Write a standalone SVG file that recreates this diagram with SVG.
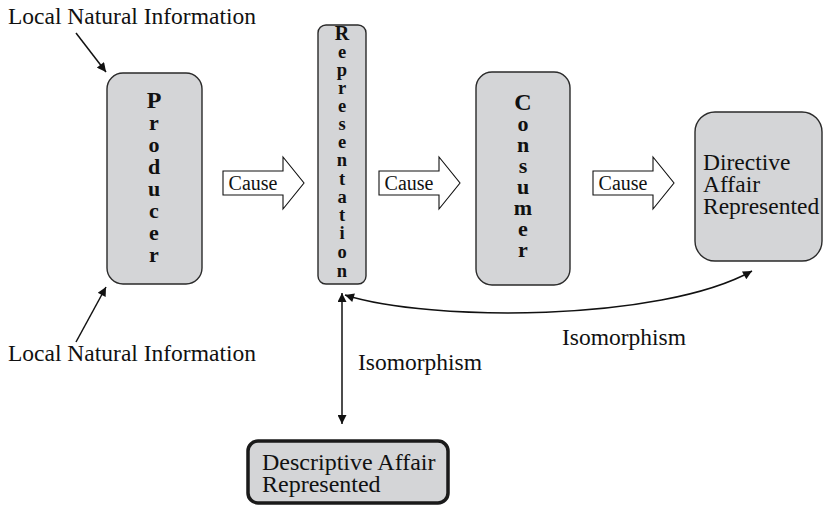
<svg xmlns="http://www.w3.org/2000/svg" width="824" height="505" viewBox="0 0 824 505">
<style>
.box{fill:#d4d5d7;stroke:#2a2a2a;stroke-width:1.4}
.thick{fill:#d4d5d7;stroke:#1a1a1a;stroke-width:3.5}
.t{font-family:"Liberation Serif","Times New Roman",serif;font-size:23.5px;fill:#111}
.v{font-family:"Liberation Serif","Times New Roman",serif;font-weight:bold;font-size:22px;fill:#111;text-anchor:middle}
.vr{font-family:"Liberation Serif","Times New Roman",serif;font-weight:bold;font-size:18.5px;fill:#111;text-anchor:middle}
.c{font-family:"Liberation Serif","Times New Roman",serif;font-size:20px;fill:#111;text-anchor:middle}
.big{fill:#fff;stroke:#111;stroke-width:1.1}
.ln{fill:none;stroke:#111;stroke-width:1.5}
</style>
<defs>
<marker id="ah" viewBox="0 0 10 10" refX="10" refY="5" markerWidth="11" markerHeight="9" orient="auto-start-reverse" markerUnits="userSpaceOnUse">
<path d="M0,0 L10,5 L0,10 z" fill="#111"/>
</marker>
</defs>
<rect width="824" height="505" fill="#fff"/>

<g id="connectors">
<line class="ln" x1="76" y1="33" x2="106" y2="72" marker-end="url(#ah)"/>
<line class="ln" x1="76" y1="342" x2="106" y2="287" marker-end="url(#ah)"/>
<line class="ln" x1="342" y1="293" x2="342" y2="424" marker-start="url(#ah)" marker-end="url(#ah)"/>
<path class="ln" d="M345 295 C430 322 660 322 752 271" marker-start="url(#ah)" marker-end="url(#ah)"/>
<g id="cause1">
<path class="big" d="M223 171 H283 V157 L304 183 L283 209 V195 H223 Z"/>
<text class="c" x="253" y="190">Cause</text>
</g>
<g id="cause2">
<path class="big" d="M379 171 H439 V157 L460 183 L439 209 V195 H379 Z"/>
<text class="c" x="409" y="190">Cause</text>
</g>
<g id="cause3">
<path class="big" d="M593 171 H653 V157 L674 183 L653 209 V195 H593 Z"/>
<text class="c" x="623" y="190">Cause</text>
</g>
</g>

<g id="label-top">
<text class="t" x="8" y="24">Local Natural Information</text>
</g>
<g id="label-bottom">
<text class="t" x="8" y="361">Local Natural Information</text>
</g>

<g id="producer">
<rect class="box" x="107" y="73" width="95" height="211" rx="16"/>
<text class="v"><tspan x="154" y="108" font-size="24">P</tspan><tspan x="154" y="130">r</tspan><tspan x="154" y="152">o</tspan><tspan x="154" y="174">d</tspan><tspan x="154" y="196">u</tspan><tspan x="154" y="218">c</tspan><tspan x="154" y="240">e</tspan><tspan x="154" y="262">r</tspan></text>
</g>

<g id="representation">
<rect class="box" x="318" y="25" width="48" height="259" rx="8"/>
<text class="vr"><tspan x="342" y="40" font-size="20">R</tspan><tspan x="342" y="58">e</tspan><tspan x="342" y="76">p</tspan><tspan x="342" y="94">r</tspan><tspan x="342" y="112">e</tspan><tspan x="342" y="130">s</tspan><tspan x="342" y="148">e</tspan><tspan x="342" y="166">n</tspan><tspan x="342" y="185">t</tspan><tspan x="342" y="203">a</tspan><tspan x="342" y="221">t</tspan><tspan x="342" y="239">i</tspan><tspan x="342" y="258">o</tspan><tspan x="342" y="277">n</tspan></text>
</g>

<g id="consumer">
<rect class="box" x="476" y="72" width="94" height="213" rx="16"/>
<text class="v"><tspan x="523" y="110" font-size="24">C</tspan><tspan x="523" y="131">o</tspan><tspan x="523" y="152">n</tspan><tspan x="523" y="173">s</tspan><tspan x="523" y="194">u</tspan><tspan x="523" y="215">m</tspan><tspan x="523" y="236">e</tspan><tspan x="523" y="257">r</tspan></text>
</g>

<g id="directive">
<rect class="box" x="695" y="112" width="127" height="149" rx="20"/>
<text class="t"><tspan x="703" y="170">Directive</tspan><tspan x="703" y="192">Affair</tspan><tspan x="703" y="214">Represented</tspan></text>
</g>

<g id="descriptive">
<rect class="thick" x="248" y="441" width="200" height="62" rx="10"/>
<text class="t" style="font-size:24px"><tspan x="262" y="470">Descriptive Affair</tspan><tspan x="262" y="492">Represented</tspan></text>
</g>

<g id="iso-labels">
<text class="t" x="358" y="370">Isomorphism</text>
<text class="t" x="562" y="345">Isomorphism</text>
</g>
</svg>
